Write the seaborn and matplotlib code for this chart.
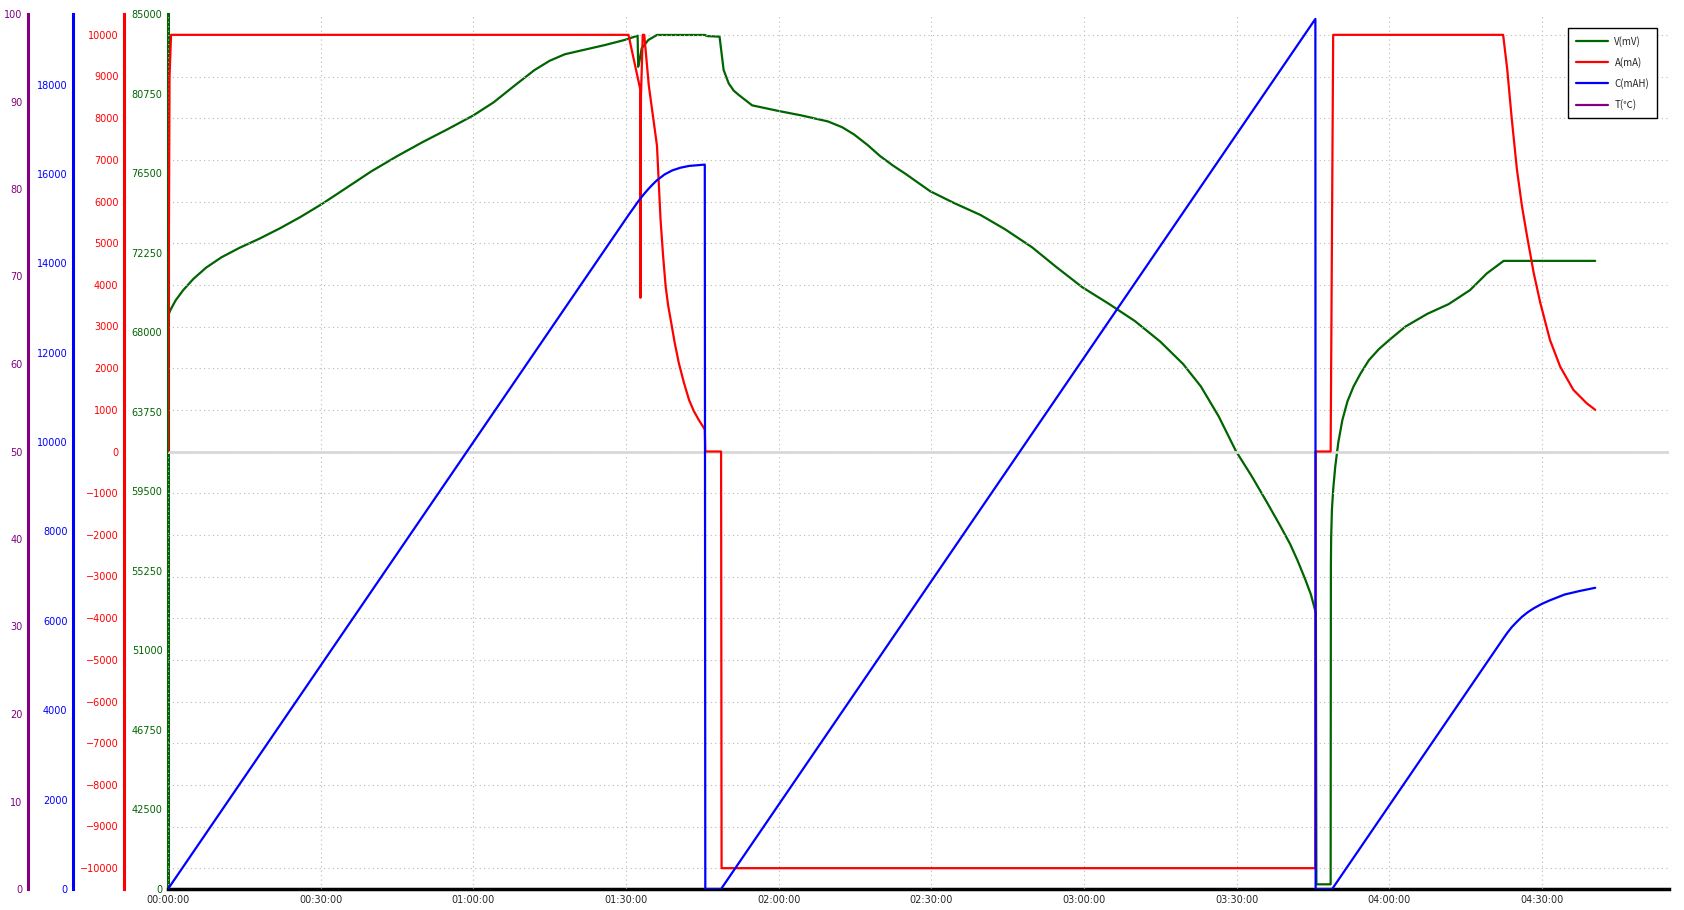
import numpy as np
import seaborn as sns
import matplotlib.pyplot as plt
from matplotlib.ticker import MultipleLocator, FixedLocator, FixedFormatter, FuncFormatter

# Battery test log: time in minutes
TIME_V = [0, 0.05, 0.5, 1.5, 3.0, 5.0, 7.5, 10.5, 14.0, 18.0, 22.0, 26.0, 30.2, 35.0, 40.0,
          45.0, 50.0, 55.0, 60.0, 64.0, 68.0, 72.0, 75.0, 78.0, 82.0, 86.0, 89.7, 92.3, 92.4,
          92.6, 93.1, 94.4, 96.1, 105.5, 106.0, 108.4, 108.8, 109.2, 110.2, 111.2, 112.2,
          114.8, 119.8, 124.5, 129.7, 132.5, 134.8, 137.5, 139.9, 142.5, 145.0, 149.8, 154.5,
          159.7, 164.5, 169.8, 174.5, 179.7, 185.0, 190.0, 195.0, 199.5, 203.0, 206.5, 209.9,
          213.0, 216.0, 218.5, 220.5, 222.0, 223.5, 224.6, 225.6, 225.7, 228.5, 228.55, 228.6,
          228.75, 229.0, 229.4, 230.0, 230.8, 231.8, 233.0, 234.4, 236.0, 238.0, 240.1, 243.2,
          247.5, 251.7, 255.9, 259.2, 262.5, 280.5]
VOLT = [0, 68900, 69200, 69700, 70250, 70850, 71450, 72000, 72500, 73000, 73550, 74150, 74840,
        75700, 76600, 77400, 78150, 78850, 79580, 80280, 81150, 82000, 82500, 82850, 83100,
        83350, 83610, 83840, 82180, 82400, 83170, 83610, 83880, 83880, 83820, 83790, 82900,
        82010, 81290, 80900, 80670, 80120, 79830, 79580, 79260, 78950, 78570, 78000, 77420,
        76900, 76450, 75530, 74900, 74260, 73500, 72540, 71500, 70400, 69500, 68600, 67500,
        66300, 65100, 63500, 61640, 60300, 58900, 57700, 56700, 55800, 54800, 54000, 53000,
        0, 0, 55500, 57000, 58500, 59600, 60800, 62100, 63300, 64300, 65100, 65800, 66500,
        67100, 67600, 68300, 68980, 69500, 70250, 71140, 71810, 71810]

TIME_A = [0, 0.3, 0.6, 90.5, 92.8, 92.85, 92.95, 93.3, 93.6, 94.5, 96.1, 96.8, 97.3, 97.8,
          98.3, 98.8, 99.6, 100.4, 101.4, 102.4, 103.3, 104.3, 105.5, 105.6, 108.7, 108.8,
          225.5, 225.55, 228.5, 229.0, 262.4, 263.2, 264.1, 265.1, 266.1, 267.1, 268.4, 269.7,
          271.6, 273.6, 276.2, 278.8, 280.5]
CURR = [0, 9000, 10000, 10000, 8700, 3690, 8500, 10000, 10000, 8780, 7340, 5570, 4700, 3970,
        3500, 3160, 2600, 2120, 1650, 1240, 980, 760, 530, 0, 0, -10000, -10000, 0, 0, 10000,
        10000, 9180, 7980, 6780, 5890, 5170, 4290, 3570, 2680, 2040, 1480, 1160, 1000]

TIME_C = [0, 90.5, 91.5, 92.5, 93.4, 94.3, 95.2, 96.1, 97.6, 99.1, 100.7, 102.4, 105.5, 105.6,
          108.7, 225.5, 225.55, 228.8, 262.4, 263.2, 264.1, 265.1, 266.1, 267.2, 268.4, 270.0,
          271.6, 274.5, 277.5, 280.5]
CAP = [0, 15080, 15240, 15400, 15530, 15650, 15760, 15860, 15990, 16080, 16140, 16180, 16210,
       0, 0, 19470, 0, 0, 5600, 5730, 5860, 5980, 6090, 6190, 6280, 6380, 6460, 6590, 6670,
       6740]

TIME_T = []
TEMP = []

V_TICKS = [38250, 42500, 46750, 51000, 55250, 59500, 63750, 68000, 72250, 76500, 80750, 85000]
V_TICK_LABELS = ["0", "42500", "46750", "51000", "55250", "59500", "63750", "68000", "72250",
                 "76500", "80750", "85000"]
LABELS = ["V(mV)", "A(mA)", "C(mAH)", "T(℃)"]

GREEN = "#006400"
RED = "#ff0000"
BLUE = "#0000ff"
PURPLE = "#800080"

sns.set_style("white")
plt.rcParams["font.family"] = ["DejaVu Sans"]

fig = plt.figure(figsize=(16.84, 9.10), dpi=100)
rect = [168 / 1684, 1 - 889 / 910, (1669 - 168) / 1684, (889 - 14) / 910]
ax_v = fig.add_axes(rect)
ax_a = fig.add_axes(rect, sharex=ax_v)
ax_c = fig.add_axes(rect, sharex=ax_v)
ax_t = fig.add_axes(rect, sharex=ax_v)

width_px = 1669 - 168
for a, x_px, col in [(ax_v, 168, GREEN), (ax_a, 124, RED), (ax_c, 73, BLUE), (ax_t, 28, PURPLE)]:
    for s in ["top", "right"]:
        a.spines[s].set_visible(False)
    a.spines["left"].set_color(col)
    a.spines["left"].set_linewidth(2.2)
    if a is not ax_v:
        a.patch.set_visible(False)
        a.spines["bottom"].set_visible(False)
        a.spines["left"].set_position(("axes", (x_px - 168) / width_px))
        a.tick_params(axis="x", which="both", length=0, labelbottom=False)
    a.tick_params(axis="y", which="major", direction="in", length=5, width=1, color=col,
                  labelcolor=col, labelsize=7, pad=4)
    a.tick_params(axis="y", which="minor", direction="in", length=3, width=1, color=col)

# lines
v_lo = V_TICKS[0]
sns.lineplot(x=TIME_V, y=np.clip(VOLT, v_lo + 250, None), ax=ax_v, color=GREEN, linewidth=1.6,
             estimator=None, sort=False, legend=False)
sns.lineplot(x=TIME_A, y=CURR, ax=ax_a, color=RED, linewidth=1.6,
             estimator=None, sort=False, legend=False)
sns.lineplot(x=TIME_C, y=CAP, ax=ax_c, color=BLUE, linewidth=1.6,
             estimator=None, sort=False, legend=False)
h_t, = ax_t.plot(TIME_T, TEMP, color=PURPLE, linewidth=1.6)

# y scales
ax_v.set_ylim(v_lo, 85000)
ax_v.yaxis.set_major_locator(FixedLocator(V_TICKS))
ax_v.yaxis.set_major_formatter(FixedFormatter(V_TICK_LABELS))

ax_a.set_ylim(-10500, 10500)
ax_a.yaxis.set_major_locator(MultipleLocator(1000))
ax_a.yaxis.set_minor_locator(MultipleLocator(500))

ax_c.set_ylim(0, 19580)
ax_c.yaxis.set_major_locator(MultipleLocator(2000))
ax_c.yaxis.set_minor_locator(MultipleLocator(500))

ax_t.set_ylim(0, 100)
ax_t.yaxis.set_major_locator(MultipleLocator(10))
ax_t.yaxis.set_minor_locator(MultipleLocator(2))

# x scale
ax_v.set_xlim(0, 295)
ax_v.xaxis.set_major_locator(MultipleLocator(30))
ax_v.xaxis.set_minor_locator(MultipleLocator(15))
ax_v.xaxis.set_major_formatter(FuncFormatter(lambda m, _: f"{int(m // 60):02d}:{int(m % 60):02d}:00"))
ax_v.spines["bottom"].set_color("black")
ax_v.spines["bottom"].set_linewidth(2.5)
ax_v.tick_params(axis="x", which="major", direction="in", length=5, width=1, labelsize=7, pad=4)
ax_v.tick_params(axis="x", which="minor", direction="in", length=4, width=1)

# grid on current axis
ax_a.grid(True, axis="both", which="major", color="#b8b8b8", linestyle=(0, (1, 3)), linewidth=0.8)
ax_a.set_axisbelow(True)
ax_a.axhline(0, color="#d8d8d8", linewidth=2, zorder=1)

for a in (ax_v, ax_a, ax_c, ax_t):
    a.set_xlabel("")
    a.set_ylabel("")

handles = [ax_v.lines[0], ax_a.lines[0], ax_c.lines[0], h_t]
leg = ax_t.legend(handles, LABELS, loc="upper right", bbox_to_anchor=(1657 / 1684, 1 - 28 / 910),
                  bbox_transform=fig.transFigure, borderaxespad=0, fancybox=False, framealpha=1,
                  edgecolor="black", prop={"family": ["Noto Sans CJK SC", "DejaVu Sans"], "size": 7},
                  handlelength=3.3, handletextpad=0.7, labelspacing=1.05, borderpad=0.8)
leg.get_frame().set_linewidth(1.0)

fig.savefig("out.png", dpi=100)
